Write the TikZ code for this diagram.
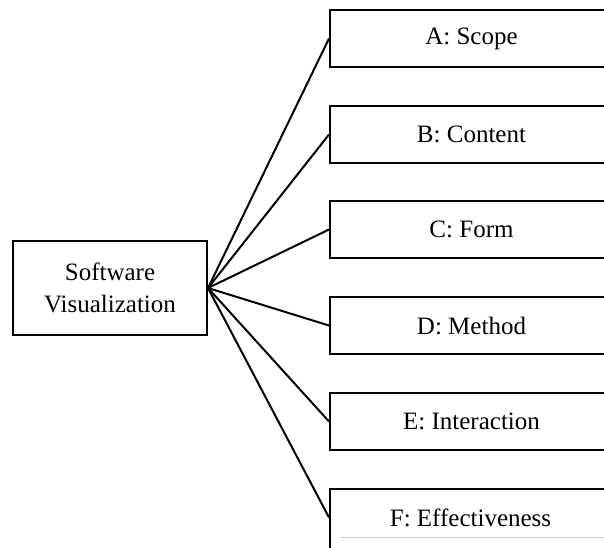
\documentclass[tikz,border=0pt]{standalone}
\usepackage{fontspec}
\setmainfont{Liberation Serif}
\begin{document}
\begin{tikzpicture}[x=1pt,y=-1pt,
  txt/.style={font=\fontsize{25}{32}\selectfont},
  box/.style={draw, line width=2pt, rectangle, inner sep=0pt, txt, align=center},
  rbox/.style={box, anchor=west, minimum width=283pt, minimum height=57pt},
  conn/.style={line width=2pt}]
\useasboundingbox (0,0) rectangle (604,547);
\node[box, minimum width=194pt, minimum height=94pt] (sv) at (110,288) {Software\\Visualization};
\node[rbox] (a) at (329,38.5) {A: Scope};
\node[rbox] (b) at (329,134.5) {B: Content};
\node[rbox] (c) at (329,229.5) {C: Form};
\node[rbox] (d) at (329,325.5) {D: Method};
\node[rbox] (e) at (329,421.5) {E: Interaction};
\node[rbox, minimum height=80pt] (f) at (329,529) {};
\node[txt] (ft) at (470.5,517.5) {F: Effectiveness};
\draw[gray!40, line width=1pt] (340,537) -- (612,537);
\foreach \n in {a,b,c,d,e}{\draw[conn] (sv.east) -- (\n.west);}
\coordinate (fj) at (329,517.5);
\draw[conn] (sv.east) -- (fj);
\end{tikzpicture}
\end{document}
